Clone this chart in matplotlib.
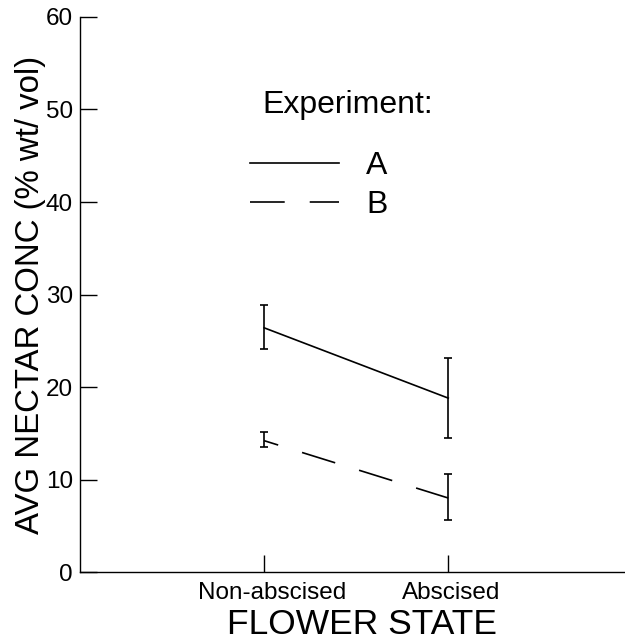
import matplotlib
matplotlib.use('Agg')
import matplotlib.pyplot as plt
import matplotlib.transforms as mtransforms
from matplotlib.lines import Line2D

plt.rcParams['font.family'] = ['Liberation Sans', 'DejaVu Sans']
plt.rcParams['lines.scale_dashes'] = False

# data
states = ['Non-abscised', 'Abscised']
state_pos = [1, 2]
a_mean = [26.4, 18.8]
a_low = [24.1, 14.5]
a_high = [28.9, 23.1]
b_mean = [14.2, 8.0]
b_low = [13.5, 5.6]
b_high = [15.1, 10.6]

fig = plt.figure(figsize=(6.25, 6.41), dpi=100)
ax = fig.add_axes([0.128, 0.1076, 0.872, 0.8659])

# error bars
a_err = [[m - l for m, l in zip(a_mean, a_low)], [h - m for m, h in zip(a_mean, a_high)]]
b_err = [[m - l for m, l in zip(b_mean, b_low)], [h - m for m, h in zip(b_mean, b_high)]]
ax.errorbar(state_pos, a_mean, yerr=a_err, fmt='none', ecolor='black',
            elinewidth=1.2, capsize=3, capthick=1.2)
ax.errorbar(state_pos, b_mean, yerr=b_err, fmt='none', ecolor='black',
            elinewidth=1.2, capsize=3, capthick=1.2)

ax.plot(state_pos, a_mean, color='black', lw=1.2)
ax.plot(state_pos, b_mean, color='black', lw=1.2, ls=(14.4, (25, 18)))

ax.set_xlim(0, 2.96)
ax.set_ylim(0, 60)
ax.set_xticks(state_pos)
ax.set_xticklabels(states)
ax.set_yticks(range(0, 61, 10))

for side in ['top', 'right']:
    ax.spines[side].set_visible(False)
for side in ['left', 'bottom']:
    ax.spines[side].set_linewidth(1.0)

ax.tick_params(axis='both', direction='in', length=12, width=1.0,
               labelsize=17.5, pad=5)
ax.tick_params(axis='x', pad=7)

# the category labels sit slightly right of their ticks in the original
for lab, dx in zip(ax.get_xticklabels(), [8, 3]):
    lab.set_transform(lab.get_transform() +
                      mtransforms.ScaledTranslation(dx / 100, 0, fig.dpi_scale_trans))

ax.set_xlabel('FLOWER STATE', fontsize=25.5, labelpad=3)
ax.xaxis.label.set_x(0.518)
ax.set_ylabel('AVG NECTAR CONC (% wt/ vol)', fontsize=23.8, labelpad=0)

# legend
ax.text(0.334, 0.827, 'Experiment:', transform=ax.transAxes,
        fontsize=23, va='baseline', ha='left')
handles = [Line2D([], [], color='black', lw=1.2),
           Line2D([], [], color='black', lw=1.2, ls=(0, (25, 18)))]
ax.legend(handles, ['A', 'B'], loc='upper left', bbox_to_anchor=(0.312, 0.759),
          frameon=False, fontsize=23, handlelength=2.78, handletextpad=0.85,
          labelspacing=0.29, borderpad=0, borderaxespad=0)

fig.savefig('out.png', dpi=100)
